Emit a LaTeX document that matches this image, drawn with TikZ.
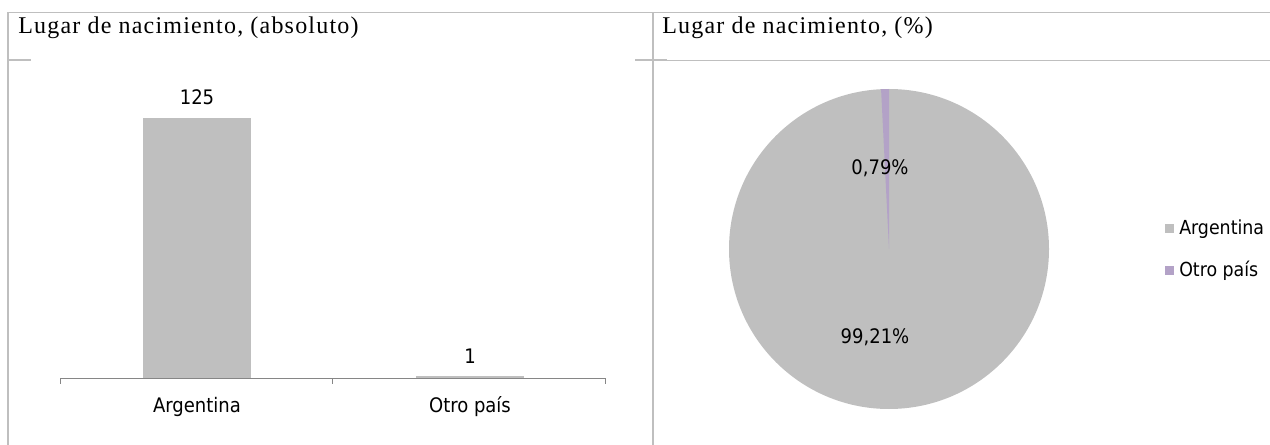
\documentclass[tikz,border=0pt]{standalone}
\usepackage{fontspec}
\setmainfont{Liberation Serif}
\newfontfamily\lblfont{DejaVu Sans Condensed}
\definecolor{gridc}{HTML}{BFBFBF}
\definecolor{barc}{HTML}{BFBFBF}
\definecolor{otroc}{HTML}{B3A2C7}
\definecolor{axisc}{HTML}{868686}
\tikzset{
  frame/.style={draw=gridc, line width=1.1pt},
  thinframe/.style={draw=gridc, line width=0.6pt},
  axisline/.style={draw=axisc, line width=0.6pt},
  ttl/.style={anchor=base west, inner sep=0pt, font=\addfontfeature{LetterSpace=5}\fontsize{18}{20}\selectfont},
  lbl/.style={inner sep=0pt, font=\lblfont\fontsize{15}{17}\selectfont},
  leg/.style={inner sep=0pt, anchor=west, font=\lblfont\fontsize{14.5}{16}\selectfont},
}
\begin{document}
\begin{tikzpicture}[x=0.75pt,y=-0.75pt]
\useasboundingbox (0,0) rectangle (1270,445);
% table frame
\coordinate (tl) at (8,12.5);
\coordinate (tr) at (1270,12.5);
\coordinate (bl) at (8,445);
\coordinate (tm) at (653,12.5);
\coordinate (bm) at (653,445);
\draw[frame] (tl) -- (tr);
\draw[frame] (tl) -- (bl);
\draw[frame] (tm) -- (bm);
\coordinate (hl1) at (8,60);
\coordinate (hl2) at (31,60);
\coordinate (hm1) at (635,60);
\coordinate (hm2) at (667,60);
\coordinate (hr) at (1270,60);
\draw[frame] (hl1) -- (hl2);
\draw[frame] (hm1) -- (hm2);
\draw[thinframe] (hm2) -- (hr);
% titles
\node[ttl] (t1) at (18,34) {Lugar de nacimiento, (absoluto)};
\node[ttl] (t2) at (662,34) {Lugar de nacimiento, (\%)};
% bar chart
\fill[barc] (143,118) rectangle (251,378);
\fill[barc] (416,376) rectangle (524,378);
\coordinate (a0) at (60,378);
\coordinate (a1) at (332.5,378);
\coordinate (a2) at (605,378);
\draw[axisline] (a0) -- (a2);
\draw[axisline] (a0) -- ++(0,6);
\draw[axisline] (a1) -- ++(0,6);
\draw[axisline] (a2) -- ++(0,6);
\node[lbl] (v1) at (197,97) {125};
\node[lbl] (v2) at (470,356) {1};
\node[lbl] (c1) at (197,407) {Argentina};
\node[lbl] (c2) at (470,407) {Otro país};
% pie chart
\coordinate (pc) at (889,249);
\fill[barc] (pc) circle (160);
\fill[otroc] (pc) -- (889,89) arc[start angle=-90, end angle=-92.844, radius=160] -- cycle;
\node[lbl] (p1) at (880,168) {0,79\%};
\node[lbl] (p2) at (875,337) {99,21\%};
% legend
\fill[barc] (1165,224) rectangle (1174,233);
\fill[otroc] (1165,266) rectangle (1174,275);
\node[leg] (l1) at (1179,229) {Argentina};
\node[leg] (l2) at (1179,271) {Otro país};
\end{tikzpicture}
\end{document}
